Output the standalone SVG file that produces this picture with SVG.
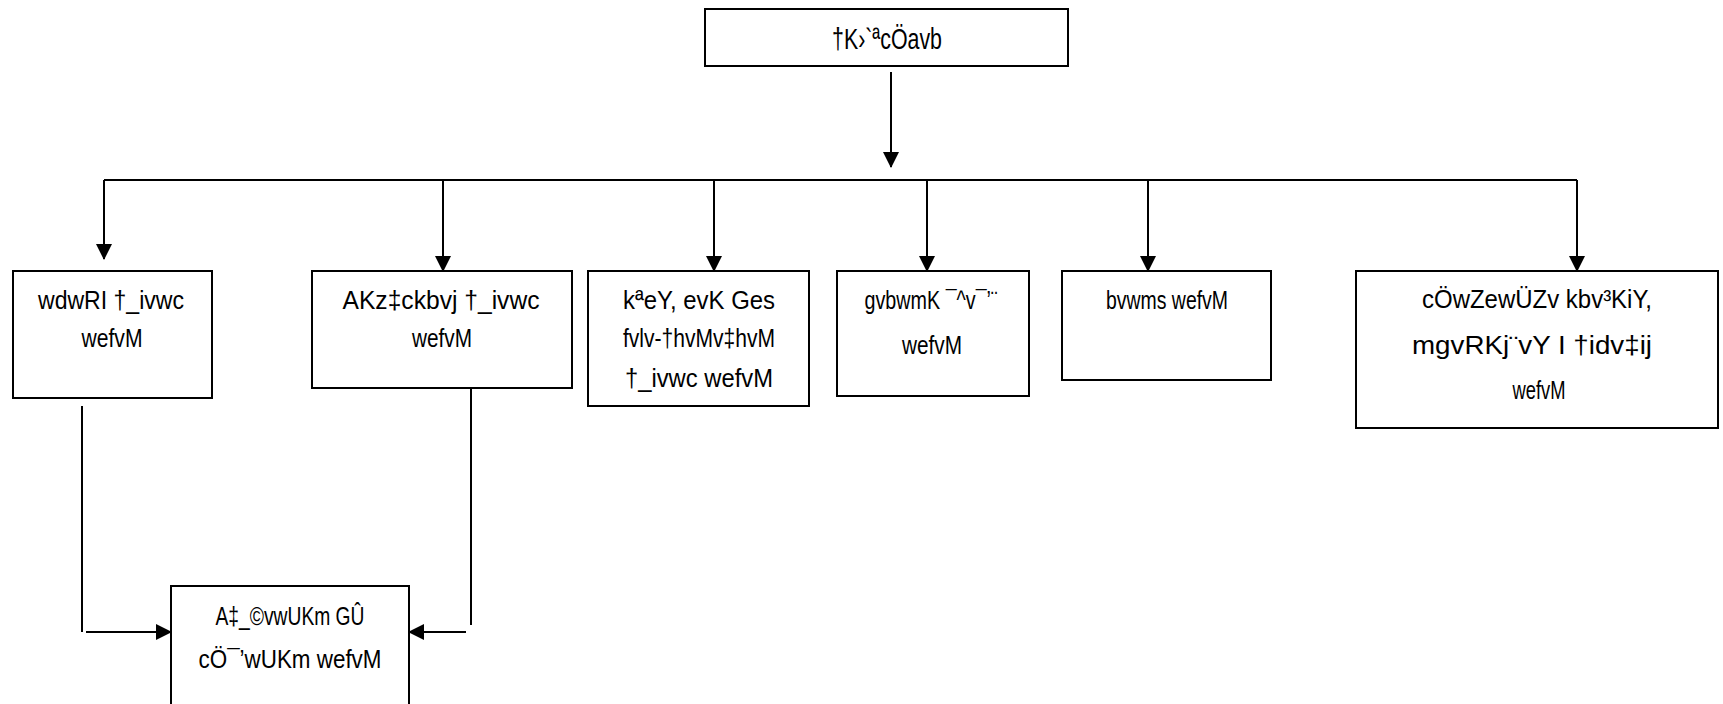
<svg xmlns="http://www.w3.org/2000/svg" width="1723" height="704" viewBox="0 0 1723 704">
<defs>
<marker id="arr" markerUnits="userSpaceOnUse" markerWidth="16" markerHeight="16" viewBox="0 0 16 16" refX="15" refY="8" orient="auto">
<path d="M0,0 L16,8 L0,16 Z" fill="#000"/>
</marker>
<style>
.box{fill:#fff;stroke:#000;stroke-width:2}
.t{font-family:"Liberation Sans Narrow","Liberation Sans",Arial,sans-serif;font-size:25px;fill:#000;text-anchor:middle}
.big{font-size:30px}
.c{fill:none;stroke:#000;stroke-width:2}
</style>
</defs>
<rect width="1723" height="704" fill="#fff"/>
<g id="connectors">
<line class="c" x1="891" y1="72" x2="891" y2="167" marker-end="url(#arr)"/>
<line class="c" x1="104" y1="180" x2="1577" y2="180"/>
<line class="c" x1="104" y1="180" x2="104" y2="259" marker-end="url(#arr)"/>
<line class="c" x1="443" y1="180" x2="443" y2="271" marker-end="url(#arr)"/>
<line class="c" x1="714" y1="180" x2="714" y2="271" marker-end="url(#arr)"/>
<line class="c" x1="927" y1="180" x2="927" y2="271" marker-end="url(#arr)"/>
<line class="c" x1="1148" y1="180" x2="1148" y2="271" marker-end="url(#arr)"/>
<line class="c" x1="1577" y1="180" x2="1577" y2="271" marker-end="url(#arr)"/>
<line class="c" x1="82" y1="406" x2="82" y2="632"/>
<line class="c" x1="86" y1="632" x2="171" y2="632" marker-end="url(#arr)"/>
<line class="c" x1="471" y1="383" x2="471" y2="625"/>
<line class="c" x1="466" y1="632" x2="409" y2="632" marker-end="url(#arr)"/>
</g>
<g id="n0">
<rect class="box" x="705" y="9" width="363" height="57"/>
<text class="t big" x="887" y="49" textLength="110" lengthAdjust="spacingAndGlyphs">†K›`ªcÖavb</text>
</g>
<g id="n1">
<rect class="box" x="13" y="271" width="199" height="127"/>
<text class="t" x="111" y="309" textLength="146" lengthAdjust="spacingAndGlyphs">wdwRI †_ivwc</text>
<text class="t" x="112" y="347" textLength="61" lengthAdjust="spacingAndGlyphs">wefvM</text>
</g>
<g id="n2">
<rect class="box" x="312" y="271" width="260" height="117"/>
<text class="t" x="441" y="309" textLength="197" lengthAdjust="spacingAndGlyphs">AKz‡ckbvj †_ivwc</text>
<text class="t" x="442" y="347" textLength="60" lengthAdjust="spacingAndGlyphs">wefvM</text>
</g>
<g id="n3">
<rect class="box" x="588" y="271" width="221" height="135"/>
<text class="t" x="699" y="309" textLength="152" lengthAdjust="spacingAndGlyphs">kªeY, evK Ges</text>
<text class="t" x="699" y="347" textLength="152" lengthAdjust="spacingAndGlyphs">fvlv-†hvMv‡hvM</text>
<text class="t" x="699" y="387" textLength="148" lengthAdjust="spacingAndGlyphs">†_ivwc wefvM</text>
</g>
<g id="n4">
<rect class="box" x="837" y="271" width="192" height="125"/>
<text class="t" x="931" y="309" textLength="133" lengthAdjust="spacingAndGlyphs">gvbwmK ¯^v¯’¨</text>
<text class="t" x="932" y="354" textLength="60" lengthAdjust="spacingAndGlyphs">wefvM</text>
</g>
<g id="n5">
<rect class="box" x="1062" y="271" width="209" height="109"/>
<text class="t" x="1167" y="309" textLength="122" lengthAdjust="spacingAndGlyphs">bvwms wefvM</text>
</g>
<g id="n6">
<rect class="box" x="1356" y="271" width="362" height="157"/>
<text class="t" x="1537" y="308" textLength="230" lengthAdjust="spacingAndGlyphs">cÖwZewÜZv kbv³KiY,</text>
<text class="t" x="1532" y="354" textLength="240" lengthAdjust="spacingAndGlyphs">mgvRKj¨vY I †idv‡ij</text>
<text class="t" x="1539" y="399" textLength="53" lengthAdjust="spacingAndGlyphs">wefvM</text>
</g>
<g id="n7">
<rect class="box" x="171" y="586" width="238" height="130"/>
<text class="t" x="290" y="625" textLength="149" lengthAdjust="spacingAndGlyphs">A‡_©vwUKm GÛ</text>
<text class="t" x="290" y="668" textLength="183" lengthAdjust="spacingAndGlyphs">cÖ¯’wUKm wefvM</text>
</g>
</svg>
